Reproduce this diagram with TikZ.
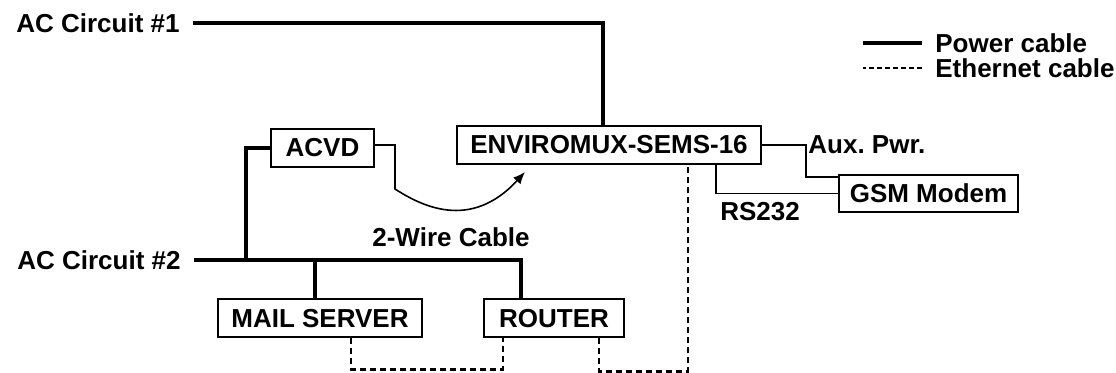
\documentclass[tikz,border=0pt]{standalone}
\usepackage{fontspec}
\setmainfont{Liberation Sans}
\usetikzlibrary{calc, arrows.meta}

\tikzset{
  unit/.style={draw, line width=1pt, inner sep=2pt, minimum height=19pt},
  lbl/.style={inner sep=0pt},
  power/.style={line width=2.2pt},
  wire/.style={line width=0.8pt},
  ether/.style={line width=1.2pt, dash pattern=on 3pt off 2pt},
}

\begin{document}
\begin{tikzpicture}[x=0.5pt, y=-0.5pt, font=\fontsize{13}{15}\selectfont\bfseries]
    \useasboundingbox (0,0) rectangle (1116,373);

    \node[lbl] (ac1) at (98,23) {AC Circuit \#1};
    \node[lbl] (ac2) at (99,260) {AC Circuit \#2};
    \node[unit, minimum width=51.5pt] (acvd) at (322.5,148) {ACVD};
    \node[unit, minimum width=152pt] (envi) at (609,145) {ENVIROMUX-SEMS-16};
    \node[unit, minimum width=89.5pt, minimum height=18.5pt] (gsm) at (928.5,193.5) {GSM Modem};
    \node[unit, minimum width=102pt] (mail) at (320,318.5) {MAIL SERVER};
    \node[unit, minimum width=70pt] (router) at (554,318.5) {ROUTER};

    \node[lbl, anchor=west] (aux) at (808,145) {Aux.\ Pwr.};
    \node[lbl] (rs) at (760,212) {RS232};
    \node[lbl] (twowire) at (451,237) {2-Wire Cable};
    \node[lbl, anchor=west] (pwrkey) at (935,43) {Power cable};
    \node[lbl, anchor=west] (ethkey) at (935,68) {Ethernet cable};

    \coordinate (tap) at (246,260);
    \coordinate (bend) at (395,189);
    \coordinate (tip) at (525,172);

    \draw[power] ([xshift=6.5pt]ac1.east) -| ([xshift=-3pt]envi.north);
    \draw[power] ([xshift=6.5pt]ac2.east) -| ($(router.north)+(-33,0)$);
    \draw[power] ([xshift=-2.5pt]mail.north) -- ([xshift=-2.5pt]mail.north |- ac2.east);
    \draw[power] (acvd.west) -| (tap);

    \draw[wire, -{Latex[length=6pt,width=5pt]}] ([yshift=1.5pt]acvd.east) -| (bend)
        .. controls (420,205) and (470,232) .. (tip);
    \draw[wire] (envi.east) -- ++(44,0) |- ($(gsm.west)+(0,-16.5)$);
    \draw[wire] ($(envi.south)+(107,0)$) |- (gsm.west);

    \draw[ether] ($(mail.south)+(31,0)$) -- ++(0,31) -| ($(router.south)+(-51,0)$);
    \draw[ether] ($(router.south)+(45,0)$) -- ++(0,33) -| ($(envi.south)+(79,0)$);

    \draw[power] ([xshift=-6.5pt]pwrkey.west) -- ++(-59,0);
    \draw[wire, dash pattern=on 2.5pt off 1.5pt] ([xshift=-6.5pt]ethkey.west) -- ++(-59,0);
\end{tikzpicture}
\end{document}
